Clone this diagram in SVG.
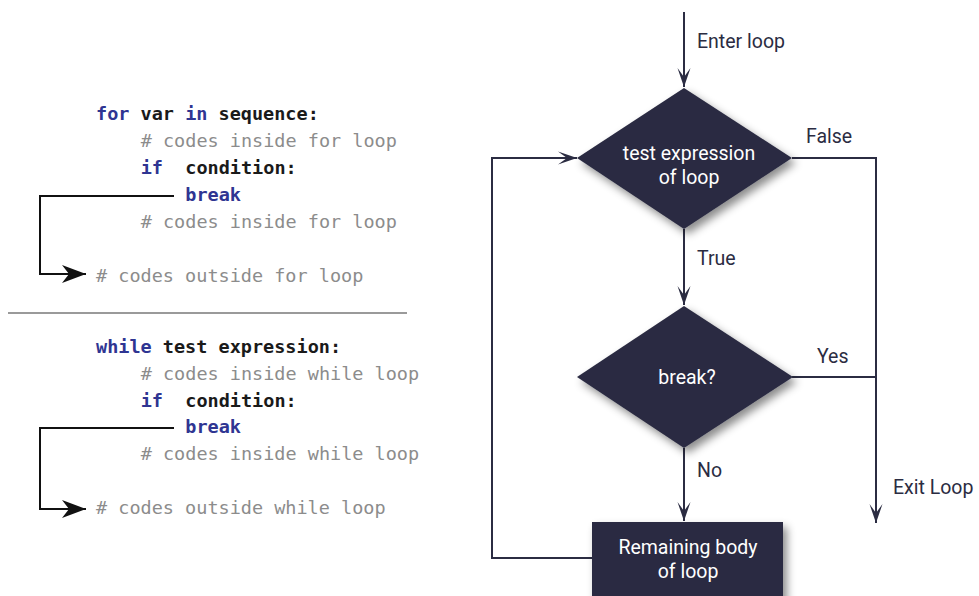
<svg xmlns="http://www.w3.org/2000/svg" width="979" height="596" viewBox="0 0 979 596">
  <style>
    .code { font-family: "DejaVu Sans Mono", "Liberation Mono", monospace; font-size: 18.5px; }
    .kw { fill: #2f3592; font-weight: bold; }
    .id { fill: #1a1a1a; font-weight: bold; }
    .cm { fill: #8c8c8c; }
    .jump { fill: none; stroke: #111; stroke-width: 2; }
    .shape { fill: #2b2c42; }
    .edge { fill: none; stroke: #2b2c42; stroke-width: 2; }
    .lbl { font-family: Roboto, "Liberation Sans", sans-serif; font-size: 19.5px; fill: #2b2c42; }
    .in { font-family: Roboto, "Liberation Sans", sans-serif; font-size: 19.5px; fill: #ffffff; text-anchor: middle; }
  </style>
  <defs>
    <marker id="codeArrow" markerUnits="userSpaceOnUse" viewBox="-25 -10 26 20" markerWidth="26" markerHeight="20" refX="0" refY="0" orient="auto">
      <path d="M0,0 L-24,-9 L-17,0 L-24,9 z" fill="#111"/>
    </marker>
    <marker id="flowArrow" markerUnits="userSpaceOnUse" viewBox="-20 -8 21 16" markerWidth="21" markerHeight="16" refX="0" refY="0" orient="auto">
      <path d="M0,0 L-19,-6.5 L-10,0 L-19,6.5 z" fill="#2b2c42"/>
    </marker>
    <filter id="shadow" x="-20%" y="-20%" width="150%" height="150%">
      <feDropShadow dx="4" dy="5" stdDeviation="4" flood-color="#000" flood-opacity="0.45"/>
    </filter>
  </defs>

  <!-- for loop with break -->
  <g id="for-block" class="code">
    <text x="96" y="120"><tspan class="kw">for</tspan> <tspan class="id">var</tspan> <tspan class="kw">in</tspan> <tspan class="id">sequence:</tspan></text>
    <text x="140.7" y="147" class="cm"># codes inside for loop</text>
    <text x="140.7" y="174" class="kw">if</text>
    <text x="185.3" y="174" class="id">condition:</text>
    <text x="185.3" y="201" class="kw">break</text>
    <text x="140.7" y="228" class="cm"># codes inside for loop</text>
    <text x="96" y="282" class="cm"># codes outside for loop</text>
  </g>

  <line id="separator" x1="8" y1="313" x2="407" y2="313" stroke="#9a9a9a" stroke-width="2"/>

  <!-- while loop with break -->
  <g id="while-block" class="code">
    <text x="96" y="353"><tspan class="kw">while</tspan> <tspan class="id">test expression:</tspan></text>
    <text x="140.7" y="380" class="cm"># codes inside while loop</text>
    <text x="140.7" y="407" class="kw">if</text>
    <text x="185.3" y="407" class="id">condition:</text>
    <text x="185.3" y="433" class="kw">break</text>
    <text x="140.7" y="460" class="cm"># codes inside while loop</text>
    <text x="96" y="514" class="cm"># codes outside while loop</text>
  </g>

  <!-- break jumps out of the loop -->
  <g id="code-jumps">
    <path class="jump" d="M174,196 H40 V274 H86" marker-end="url(#codeArrow)"/>
    <path class="jump" d="M174,428 H40 V509 H86" marker-end="url(#codeArrow)"/>
  </g>

  <!-- flowchart connectors -->
  <g id="connectors">
    <line class="edge" x1="684" y1="12" x2="684" y2="87" marker-end="url(#flowArrow)"/>
    <line class="edge" x1="684" y1="229" x2="684" y2="305" marker-end="url(#flowArrow)"/>
    <line class="edge" x1="684" y1="448" x2="684" y2="521" marker-end="url(#flowArrow)"/>
    <path class="edge" d="M792,158 H876 V523" marker-end="url(#flowArrow)"/>
    <line class="edge" x1="792" y1="377" x2="876" y2="377"/>
    <path class="edge" d="M592,558 H492 V158 H577" marker-end="url(#flowArrow)"/>
    <text class="lbl" x="697" y="48">Enter loop</text>
    <text class="lbl" x="806" y="143">False</text>
    <text class="lbl" x="697" y="265">True</text>
    <text class="lbl" x="817" y="363">Yes</text>
    <text class="lbl" x="697" y="477">No</text>
    <text class="lbl" x="893" y="494">Exit Loop</text>
  </g>

  <g id="test-expression">
    <polygon class="shape" points="684,88 792,158 684,229 577,158" filter="url(#shadow)"/>
    <text class="in" x="689" y="160">test expression</text>
    <text class="in" x="689" y="184">of loop</text>
  </g>

  <g id="break-check">
    <polygon class="shape" points="684,306 793,377 684,448 577,377" filter="url(#shadow)"/>
    <text class="in" x="687" y="384">break?</text>
  </g>

  <g id="remaining-body">
    <rect class="shape" x="592" y="522" width="191" height="82" filter="url(#shadow)"/>
    <text class="in" x="688" y="554">Remaining body</text>
    <text class="in" x="688" y="578">of loop</text>
  </g>
</svg>
